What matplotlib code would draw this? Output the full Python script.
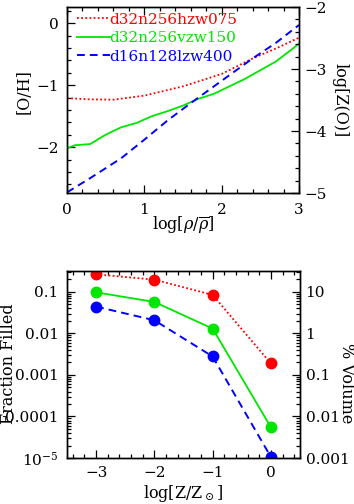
import matplotlib
matplotlib.use("Agg")
import matplotlib.pyplot as plt
from matplotlib.ticker import MultipleLocator, LogLocator, NullFormatter

plt.rcParams["font.family"] = "DejaVu Serif"
plt.rcParams["mathtext.fontset"] = "dejavuserif"

RED = "#ff0000"; GREEN = "#00e600"; BLUE = "#0000ff"

# top panel: [O/H] vs log overdensity
RUNS = ["d32n256hzw075", "d32n256vzw150", "d16n128lzw400"]
X_RED = [0.0, 0.3, 0.6, 1.0, 1.5, 2.0, 2.4, 2.7, 3.0]
Y_RED = [-1.21, -1.23, -1.235, -1.17, -1.02, -0.82, -0.57, -0.41, -0.235]
X_GRN = [0.0, 0.1, 0.3, 0.5, 0.7, 0.9, 1.1, 1.3, 1.5, 1.7, 1.9, 2.1, 2.3, 2.5, 2.7, 2.9, 3.0]
Y_GRN = [-2.02, -1.97, -1.95, -1.80, -1.68, -1.61, -1.50, -1.42, -1.33, -1.22, -1.14,
         -1.02, -0.90, -0.76, -0.62, -0.43, -0.33]
X_BLU = [0.0, 0.3, 0.7, 1.0, 1.3, 1.6, 2.0, 2.4, 2.7, 3.0]
Y_BLU = [-2.73, -2.50, -2.18, -1.88, -1.57, -1.29, -0.93, -0.57, -0.32, -0.03]

# bottom panel: fraction of volume filled above metallicity
LOGZ = [-3, -2, -1, 0]
F_RED = [0.266, 0.198, 0.085, 0.0019]
F_GRN = [0.098, 0.0575, 0.0131, 5.5e-5]
F_BLU = [0.0444, 0.0208, 0.00279, 1.06e-5]

FRAC_TICKS = [1e-5, 1e-4, 1e-3, 1e-2, 1e-1]
FRAC_LABELS = [r"$10^{-5}$", "0.0001", "0.001", "0.01", "0.1"]
PCT_TICKS = [1e-3, 1e-2, 1e-1, 1, 10]
PCT_LABELS = ["0.001", "0.01", "0.1", "1", "10"]

TFS = 11
LFS = 11.5
DOT = (0, (1, 1.3)); DASH = (0, (4, 2.6))

fig = plt.figure(figsize=(3.54, 5.04), dpi=100)


def style(ax, right=False, xpad=7):
    ax.tick_params(which="both", direction="in", labelsize=TFS, width=0.9)
    ax.tick_params(which="major", length=6)
    ax.tick_params(which="minor", length=3)
    if right:
        ax.tick_params(axis="y", which="both", pad=4)
    else:
        ax.tick_params(axis="y", which="both", pad=6)
        ax.tick_params(axis="x", which="both", top=True, pad=xpad)
    for s in ax.spines.values():
        s.set_linewidth(1.0)


# ── top panel ──
ax1 = fig.add_axes([67 / 354, 1 - 193 / 504, 232 / 354, 186 / 504])
ax1.plot(X_RED, Y_RED, color=RED, lw=1.3, ls=DOT, label=RUNS[0])
ax1.plot(X_GRN, Y_GRN, color=GREEN, lw=1.3, label=RUNS[1])
ax1.plot(X_BLU, Y_BLU, color=BLUE, lw=1.4, ls=DASH, label=RUNS[2])
ax1.set_xlim(0, 3)
ax1.set_ylim(-2.74, 0.26)
ax1.xaxis.set_major_locator(MultipleLocator(1))
ax1.xaxis.set_minor_locator(MultipleLocator(0.2))
ax1.yaxis.set_major_locator(MultipleLocator(1))
ax1.yaxis.set_minor_locator(MultipleLocator(0.2))
style(ax1)
leg = ax1.legend(loc="upper left", bbox_to_anchor=(0.045, 0.97), frameon=False,
                 fontsize=11, handlelength=2.1, handletextpad=0.0, labelspacing=0.3,
                 borderaxespad=0, borderpad=0)
for t, c in zip(leg.get_texts(), [RED, GREEN, BLUE]):
    t.set_color(c)

ax1r = ax1.twinx()
ax1r.set_ylim(-5, -2)
ax1r.yaxis.set_major_locator(MultipleLocator(1))
ax1r.yaxis.set_minor_locator(MultipleLocator(0.2))
style(ax1r, right=True)

fig.text(24 / 354, 1 - 92 / 504, "[O/H]", rotation=90, ha="center", va="center", fontsize=LFS)
fig.text(183 / 354, 1 - 225 / 504, r"log[$\rho/\overline{\rho}$]", ha="center", va="center", fontsize=LFS)
fig.text(340 / 354, 1 - 100 / 504, "log[Z(O)]", rotation=270, ha="center", va="center", fontsize=LFS)

# ── bottom panel ──
ax2 = fig.add_axes([67 / 354, 1 - 458 / 504, 233 / 354, 187 / 504])
ax2.plot(LOGZ, F_RED, color=RED, lw=1.3, ls=DOT, marker="o", ms=7.5)
ax2.plot(LOGZ, F_GRN, color=GREEN, lw=1.3, marker="o", ms=7.5)
ax2.plot(LOGZ, F_BLU, color=BLUE, lw=1.4, ls=DASH, marker="o", ms=7.5)
ax2.set_xlim(-3.5, 0.5)
ax2.set_yscale("log")
ax2.set_ylim(1e-5, 0.32)
ax2.xaxis.set_major_locator(MultipleLocator(1))
ax2.xaxis.set_minor_locator(MultipleLocator(0.2))
ax2.set_yticks(FRAC_TICKS, FRAC_LABELS)
ax2.yaxis.set_minor_locator(LogLocator(base=10, subs=range(2, 10), numticks=20))
ax2.yaxis.set_minor_formatter(NullFormatter())
style(ax2, xpad=5.5)

ax2r = ax2.twinx()
ax2r.set_yscale("log")
ax2r.set_ylim(1e-3, 32)
ax2r.set_yticks(PCT_TICKS, PCT_LABELS)
ax2r.yaxis.set_minor_locator(LogLocator(base=10, subs=range(2, 10), numticks=20))
ax2r.yaxis.set_minor_formatter(NullFormatter())
style(ax2r, right=True)

fig.text(9 / 354, 1 - 364 / 504, "Fraction Filled", rotation=90, ha="center", va="center", fontsize=LFS)
fig.text(183 / 354, 1 - 493 / 504, r"log[Z/Z$_\odot$]", ha="center", va="center", fontsize=LFS)
fig.text(346 / 354, 1 - 383 / 504, "% Volume", rotation=270, ha="center", va="center", fontsize=LFS)

fig.savefig("out.png", dpi=100, facecolor="white")
